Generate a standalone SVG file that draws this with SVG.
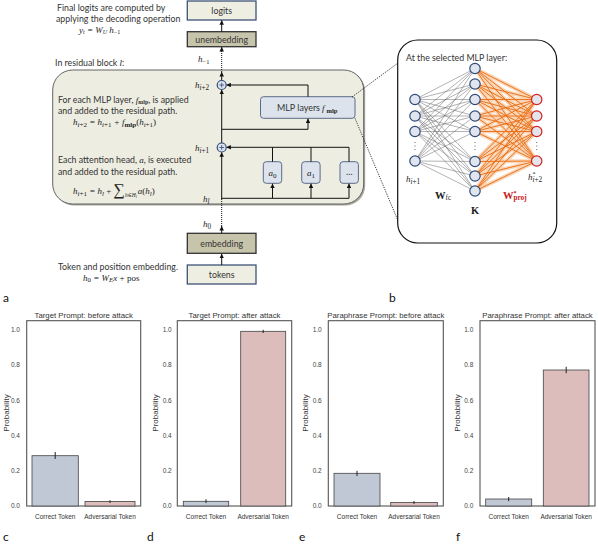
<svg xmlns="http://www.w3.org/2000/svg" width="598" height="554" viewBox="0 0 598 554">
<style>
.t{font-family:Lato,"Open Sans",sans-serif;font-size:8.8px;fill:#333}
.bx{font-family:Lato,"Open Sans",sans-serif;font-size:8.8px;fill:#333;text-anchor:middle}
.m{font-family:"Liberation Serif","DejaVu Serif",serif;font-style:italic;font-size:9px;fill:#222}
.mb{font-family:"Liberation Serif","DejaVu Serif",serif;font-weight:bold;font-style:normal}
.up{font-style:normal}
.lbl{font-family:Lato,"Open Sans",sans-serif;font-size:12px;fill:#111}
.ct{font-family:"Liberation Sans",Arial,sans-serif;font-size:7.8px;fill:#333;text-anchor:middle}
.tk{font-family:"Liberation Sans",Arial,sans-serif;font-size:6.5px;fill:#444;text-anchor:end}
.xl{font-family:"Liberation Sans",Arial,sans-serif;font-size:6.5px;fill:#333;text-anchor:middle}
.yl{font-family:"Liberation Sans",Arial,sans-serif;font-size:8px;fill:#333;text-anchor:middle}
.frame{fill:#fff;stroke:#555;stroke-width:1.1}
.bb{fill:#C0C8D6;stroke:#444;stroke-width:0.8}
.bp{fill:#DDBCBC;stroke:#444;stroke-width:0.8}
.eb{stroke:#222;stroke-width:1}
.ln{fill:none;stroke:#111;stroke-width:1}
.dot{fill:none;stroke:#111;stroke-width:1;stroke-dasharray:1 1}
.light{fill:#EEEEE2;stroke:#3E5377;stroke-width:1.3}
.dark{fill:#C7C4AC;stroke:#333;stroke-width:1.3}
.head{fill:#DCE3EC;stroke:#5A6B88;stroke-width:1}
.plus{fill:#DCE3EC;stroke:#2F4A7A;stroke-width:1.2}
.nb{fill:#E1E6EE;stroke:#2F4A7A;stroke-width:1.2}
.nr{fill:#E1E6EE;stroke:#D42020;stroke-width:1.2}
</style>
<defs>
<marker id="ah" viewBox="0 0 6 6" refX="6" refY="3" markerWidth="4.5" markerHeight="4.5" orient="auto" markerUnits="userSpaceOnUse"><path d="M0,0L6,3L0,6z" fill="#111"/></marker>
</defs>
<rect width="598" height="554" fill="#fff"/>

<!-- annotations -->
<text class="t" x="57" y="11">Final logits are computed by</text>
<text class="t" x="56" y="21.5">applying the decoding operation</text>
<text class="m" x="79" y="32.5">y<tspan font-size="6" dy="1.8">t</tspan><tspan dy="-1.8"> = W</tspan><tspan font-size="6" dy="1.8">U</tspan><tspan dy="-1.8"> h</tspan><tspan font-size="6" dy="1.8" class="up">−1</tspan></text>
<text class="t" x="55" y="66">In residual block <tspan class="m" font-size="10">l</tspan>:</text>

<!-- residual block -->
<g id="residual-block">
<rect x="54.2" y="71.5" width="311" height="134" rx="20" fill="#A8A89E"/>
<rect x="52.7" y="70" width="311" height="134" rx="20" fill="#EDEDE2" stroke="#555" stroke-width="0.9"/>
<text class="t" x="58" y="102.5" font-size="8.2">For each MLP layer, <tspan class="m" font-size="9.5">f</tspan><tspan class="mb" font-size="6" dy="1">mlp</tspan><tspan dy="-1">, is applied</tspan></text>
<text class="t" x="58" y="113.5">and added to the residual path.</text>
<text class="m" x="73" y="125" font-size="10">h<tspan font-size="7" dy="1.8">i<tspan class="up">+2</tspan></tspan><tspan dy="-1.8"> = h</tspan><tspan font-size="7" dy="1.8">i<tspan class="up">+1</tspan></tspan><tspan dy="-1.8"> + f</tspan><tspan class="mb" font-size="7" dy="1.8">mlp</tspan><tspan dy="-1.8" class="up">(</tspan>h<tspan font-size="7" dy="1.8">i<tspan class="up">+1</tspan></tspan><tspan dy="-1.8" class="up">)</tspan></text>
<text class="t" x="58" y="163">Each attention head, <tspan class="m" font-size="10">a</tspan>, is executed</text>
<text class="t" x="58" y="175">and added to the residual path.</text>
<text class="m" x="73" y="194" font-size="10">h<tspan font-size="7" dy="1.8">i<tspan class="up">+1</tspan></tspan><tspan dy="-1.8"> = h</tspan><tspan font-size="7" dy="1.8">l</tspan><tspan dy="-1.8" class="up"> + </tspan><tspan class="up" font-size="16" dy="1">∑</tspan><tspan font-size="5.5" dy="2">h∈H</tspan><tspan font-size="4" dy="1">l</tspan><tspan dy="-4" dx="1">a</tspan><tspan class="up">(</tspan>h<tspan font-size="7" dy="1.8">l</tspan><tspan dy="-1.8" class="up">)</tspan></text>
</g>
<text class="t" x="58" y="269.5">Token and position embedding.</text>
<text class="m" x="83" y="280.5" font-size="10">h<tspan font-size="7" dy="1.8" class="up">0</tspan><tspan dy="-1.8"> = W</tspan><tspan font-size="7" dy="1.8">E</tspan><tspan dy="-1.8">x</tspan><tspan class="up"> + pos</tspan></text>

<!-- boxes -->
<g id="logits"><rect class="light" x="187.3" y="1" width="68.7" height="19"/><text class="bx" x="221.7" y="14">logits</text></g>
<g id="unembedding"><rect class="dark" x="187.3" y="31.7" width="68.7" height="15"/><text class="bx" x="221.7" y="42.5">unembedding</text></g>
<g id="embedding"><rect class="dark" x="187.3" y="233.3" width="68.7" height="20"/><text class="bx" x="221.7" y="246.5">embedding</text></g>
<g id="tokens"><rect class="light" x="187.3" y="265" width="68.7" height="19"/><text class="bx" x="221.7" y="278">tokens</text></g>
<g id="mlp-layers"><rect class="head" x="260.5" y="96.7" width="94.5" height="21.6" rx="3"/>
<text class="t" x="277" y="111" font-size="8.6" textLength="43" lengthAdjust="spacingAndGlyphs">MLP layers</text>
<text class="m" x="322" y="111" font-size="10">f</text>
<text class="mb" x="326.5" y="112.6" font-size="6.5" fill="#222">mlp</text></g>
<g id="head-a0"><rect class="head" x="263.3" y="161.7" width="18.4" height="21.6" rx="3"/><text class="m" x="268.5" y="176" font-size="11">a<tspan font-size="7" dy="1.8" class="up">0</tspan></text></g>
<g id="head-a1"><rect class="head" x="301.7" y="161.7" width="18.4" height="21.6" rx="3"/><text class="m" x="306.9" y="176" font-size="11">a<tspan font-size="7" dy="1.8" class="up">1</tspan></text></g>
<g id="head-more"><rect class="head" x="340" y="161.7" width="18.4" height="21.6" rx="3"/><text class="t" x="349.2" y="175" text-anchor="middle" font-size="7">…</text></g>

<!-- labels on residual path -->
<text class="m" x="198" y="62" font-size="10">h<tspan font-size="6.5" dy="1.8" class="up">−1</tspan></text>
<text class="m" x="195" y="88" font-size="10.5">h<tspan font-size="7.2" dy="2">i<tspan class="up">+2</tspan></tspan></text>
<text class="m" x="195" y="151" font-size="10.5">h<tspan font-size="7.2" dy="2">i<tspan class="up">+1</tspan></tspan></text>
<text class="m" x="203" y="202" font-size="10.5">h<tspan font-size="7.2" dy="2">l</tspan></text>
<text class="m" x="203" y="227" font-size="10.5">h<tspan font-size="7.2" dy="2" class="up">0</tspan></text>

<!-- connectors -->
<g id="connectors">
<path class="ln" d="M221.7 265V253.8" marker-end="url(#ah)"/>
<path class="ln" d="M221.7 233.3V226" marker-end="url(#ah)"/>
<path class="dot" d="M221.7 226V199"/>
<path class="ln" d="M221.7 199V152.2" marker-end="url(#ah)"/>
<path class="ln" d="M221.7 198.3H349"/>
<path class="ln" d="M272.5 198.3V183.6" marker-end="url(#ah)"/>
<path class="ln" d="M311 198.3V183.6" marker-end="url(#ah)"/>
<path class="ln" d="M349 198.3V183.6" marker-end="url(#ah)"/>
<path class="ln" d="M272.5 161.7V147.3"/>
<path class="ln" d="M311 161.7V147.3"/>
<path class="ln" d="M349 161.7V147.3H226.4" marker-end="url(#ah)"/>
<path class="ln" d="M221.7 143V89.7" marker-end="url(#ah)"/>
<path class="ln" d="M221.7 129.3H308V118.6" marker-end="url(#ah)"/>
<path class="ln" d="M308 96.7V85H226.4" marker-end="url(#ah)"/>
<path class="ln" d="M221.7 80.5V72" marker-end="url(#ah)"/>
<path class="dot" d="M221.7 72V52"/>
<path class="ln" d="M221.7 52V47" marker-end="url(#ah)"/>
<path class="ln" d="M221.7 31.7V20.3" marker-end="url(#ah)"/>
<path fill="none" stroke="#222" stroke-width="0.9" stroke-dasharray="1.2 1.2" d="M352 97L398 63M355 118.3L397.7 220"/>
</g>
<g id="plus-h2"><circle class="plus" cx="221.7" cy="85" r="4.5"/><path d="M219.3 85H224.1M221.7 82.6V87.4" stroke="#2F4A7A" stroke-width="0.8"/></g>
<g id="plus-h1"><circle class="plus" cx="221.7" cy="147.5" r="4.5"/><path d="M219.3 147.5H224.1M221.7 145.1V149.9" stroke="#2F4A7A" stroke-width="0.8"/></g>

<!-- MLP detail panel -->
<g id="mlp-detail">
<rect x="397.7" y="40" width="159" height="203" rx="20" fill="#fff" stroke="#111" stroke-width="1.2"/>
<text class="t" x="406" y="61">At the selected MLP layer:</text>
<g id="wfc-edges">
<path fill="none" stroke="#666" stroke-width="0.5" d="M415 99.5L475 68.5M415 99.5L475 84M415 99.5L475 99.5M415 99.5L475 116M415 99.5L475 131.5M415 99.5L475 161.5M415 99.5L475 176M415 99.5L475 191M415 116L475 68.5M415 116L475 84M415 116L475 99.5M415 116L475 116M415 116L475 131.5M415 116L475 161.5M415 116L475 176M415 116L475 191M415 131.5L475 68.5M415 131.5L475 84M415 131.5L475 99.5M415 131.5L475 116M415 131.5L475 131.5M415 131.5L475 161.5M415 131.5L475 176M415 131.5L475 191M415 161L475 68.5M415 161L475 84M415 161L475 99.5M415 161L475 116M415 161L475 131.5M415 161L475 161.5M415 161L475 176M415 161L475 191"/>
</g>
<g id="wproj-edges">
<path fill="none" stroke="#F6A35E" stroke-opacity="0.45" stroke-width="4" d="M475 68.5L536.7 99.5M475 68.5L536.7 116M475 68.5L536.7 131.5M475 68.5L536.7 161M475 84L536.7 99.5M475 84L536.7 116M475 84L536.7 131.5M475 84L536.7 161M475 99.5L536.7 99.5M475 99.5L536.7 116M475 99.5L536.7 131.5M475 99.5L536.7 161M475 116L536.7 99.5M475 116L536.7 116M475 116L536.7 131.5M475 116L536.7 161M475 131.5L536.7 99.5M475 131.5L536.7 116M475 131.5L536.7 131.5M475 131.5L536.7 161M475 161.5L536.7 99.5M475 161.5L536.7 116M475 161.5L536.7 131.5M475 161.5L536.7 161M475 176L536.7 99.5M475 176L536.7 116M475 176L536.7 131.5M475 176L536.7 161M475 191L536.7 99.5M475 191L536.7 116M475 191L536.7 131.5M475 191L536.7 161"/>
<path fill="none" stroke="#E8690E" stroke-width="0.9" d="M475 68.5L536.7 99.5M475 68.5L536.7 116M475 68.5L536.7 131.5M475 68.5L536.7 161M475 84L536.7 99.5M475 84L536.7 116M475 84L536.7 131.5M475 84L536.7 161M475 99.5L536.7 99.5M475 99.5L536.7 116M475 99.5L536.7 131.5M475 99.5L536.7 161M475 116L536.7 99.5M475 116L536.7 116M475 116L536.7 131.5M475 116L536.7 161M475 131.5L536.7 99.5M475 131.5L536.7 116M475 131.5L536.7 131.5M475 131.5L536.7 161M475 161.5L536.7 99.5M475 161.5L536.7 116M475 161.5L536.7 131.5M475 161.5L536.7 161M475 176L536.7 99.5M475 176L536.7 116M475 176L536.7 131.5M475 176L536.7 161M475 191L536.7 99.5M475 191L536.7 116M475 191L536.7 131.5M475 191L536.7 161"/>
</g>
<g id="layer-in">
<circle class="nb" cx="415" cy="99.5" r="5.2"/><circle class="nb" cx="415" cy="116" r="5.2"/><circle class="nb" cx="415" cy="131.5" r="5.2"/><circle class="nb" cx="415" cy="161" r="5.2"/>
<g fill="#555"><circle cx="415" cy="142.5" r="0.6"/><circle cx="415" cy="146" r="0.6"/><circle cx="415" cy="149.5" r="0.6"/></g>
</g>
<g id="layer-k">
<circle class="nb" cx="475" cy="68.5" r="5.2"/><circle class="nb" cx="475" cy="84" r="5.2"/><circle class="nb" cx="475" cy="99.5" r="5.2"/><circle class="nb" cx="475" cy="116" r="5.2"/><circle class="nb" cx="475" cy="131.5" r="5.2"/><circle class="nb" cx="475" cy="161.5" r="5.2"/><circle class="nb" cx="475" cy="176" r="5.2"/><circle class="nb" cx="475" cy="191" r="5.2"/>
<g fill="#555"><circle cx="475" cy="142.5" r="0.6"/><circle cx="475" cy="146" r="0.6"/><circle cx="475" cy="149.5" r="0.6"/></g>
</g>
<g id="layer-out">
<circle class="nr" cx="536.7" cy="99.5" r="5.2"/><circle class="nr" cx="536.7" cy="116" r="5.2"/><circle class="nr" cx="536.7" cy="131.5" r="5.2"/><circle class="nr" cx="536.7" cy="161" r="5.2"/>
<g fill="#555"><circle cx="536.7" cy="142.5" r="0.6"/><circle cx="536.7" cy="146" r="0.6"/><circle cx="536.7" cy="149.5" r="0.6"/></g>
</g>
<text class="m" x="406" y="182" font-size="10.5" fill="#444">h<tspan font-size="7.2" dy="2">i<tspan class="up">+1</tspan></tspan></text>
<text class="m" x="528" y="180" font-size="10.5" fill="#444">h<tspan font-size="6" dy="-4" class="up">*</tspan><tspan font-size="7.2" dy="6" dx="-3">i<tspan class="up">+2</tspan></tspan></text>
<text class="mb" x="435" y="198.5" font-size="10.5" fill="#222">W<tspan font-size="7.2" dy="1.8" font-weight="normal">fc</tspan></text>
<text class="mb" x="471" y="214" font-size="10.5" fill="#222">K</text>
<text class="mb" x="503" y="198.5" font-size="10.5" fill="#C82020">W<tspan font-size="6" dy="-4">*</tspan><tspan font-size="7.2" dy="5.8" dx="-3">proj</tspan></text>
</g>

<!-- panel labels -->
<text class="lbl" x="3" y="302">a</text>
<text class="lbl" x="389" y="302">b</text>
<text class="lbl" x="3" y="541">c</text>
<text class="lbl" x="147" y="541">d</text>
<text class="lbl" x="299" y="541">e</text>
<text class="lbl" x="456" y="541">f</text>

<!-- chart c -->
<g id="chart-c">
<text class="ct" x="83.7" y="317.5">Target Prompt: before attack</text>
<rect class="frame" x="26.7" y="320.7" width="114" height="185.3"/>
<rect class="bb" x="32" y="455.7" width="46.3" height="50.3"/>
<rect class="bp" x="85" y="501.5" width="50" height="4.5"/>
<path class="eb" d="M55.2 452V459M110 500.3V503"/>
<g class="tk"><text x="20" y="508.2">0.0</text><text x="20" y="473">0.2</text><text x="20" y="437.8">0.4</text><text x="20" y="402.6">0.6</text><text x="20" y="367.4">0.8</text><text x="20" y="332.2">1.0</text></g>
<text class="yl" transform="translate(8.5 413) rotate(-90)">Probability</text>
<text class="xl" x="55.2" y="518.5">Correct Token</text><text class="xl" x="110" y="518.5">Adversarial Token</text>
</g>
<!-- chart d -->
<g id="chart-d">
<text class="ct" x="234.5" y="317.5">Target Prompt: after attack</text>
<rect class="frame" x="177.3" y="320.7" width="114.4" height="185.3"/>
<rect class="bb" x="183.3" y="501.3" width="45.4" height="4.7"/>
<rect class="bp" x="240.7" y="331.3" width="45" height="174.7"/>
<path class="eb" d="M206 499.3V503M263.2 329.8V333"/>
<g class="tk"><text x="171.7" y="508.2">0.0</text><text x="171.7" y="473">0.2</text><text x="171.7" y="437.8">0.4</text><text x="171.7" y="402.6">0.6</text><text x="171.7" y="367.4">0.8</text><text x="171.7" y="332.2">1.0</text></g>
<text class="yl" transform="translate(157.5 413) rotate(-90)">Probability</text>
<text class="xl" x="206" y="518.5">Correct Token</text><text class="xl" x="263.2" y="518.5">Adversarial Token</text>
</g>
<!-- chart e -->
<g id="chart-e">
<text class="ct" x="385.8" y="317.5">Paraphrase Prompt: before attack</text>
<rect class="frame" x="328.3" y="320.7" width="115" height="185.3"/>
<rect class="bb" x="334" y="473.3" width="46" height="32.7"/>
<rect class="bp" x="390.7" y="502.5" width="46.6" height="3.5"/>
<path class="eb" d="M357 470.8V476M414 501V504"/>
<g class="tk"><text x="321.7" y="508.2">0.0</text><text x="321.7" y="473">0.2</text><text x="321.7" y="437.8">0.4</text><text x="321.7" y="402.6">0.6</text><text x="321.7" y="367.4">0.8</text><text x="321.7" y="332.2">1.0</text></g>
<text class="yl" transform="translate(307.8 413) rotate(-90)">Probability</text>
<text class="xl" x="357" y="518.5">Correct Token</text><text class="xl" x="414" y="518.5">Adversarial Token</text>
</g>
<!-- chart f -->
<g id="chart-f">
<text class="ct" x="537.5" y="317.5">Paraphrase Prompt: after attack</text>
<rect class="frame" x="480" y="320.7" width="115" height="185.3"/>
<rect class="bb" x="485.7" y="499" width="46" height="7"/>
<rect class="bp" x="543.3" y="370" width="45.7" height="136"/>
<path class="eb" d="M508.7 497V501.2M566.2 366.8V373.2"/>
<g class="tk"><text x="473.3" y="508.2">0.0</text><text x="473.3" y="473">0.2</text><text x="473.3" y="437.8">0.4</text><text x="473.3" y="402.6">0.6</text><text x="473.3" y="367.4">0.8</text><text x="473.3" y="332.2">1.0</text></g>
<text class="yl" transform="translate(459.8 413) rotate(-90)">Probability</text>
<text class="xl" x="508.7" y="518.5">Correct Token</text><text class="xl" x="566.2" y="518.5">Adversarial Token</text>
</g>
</svg>
